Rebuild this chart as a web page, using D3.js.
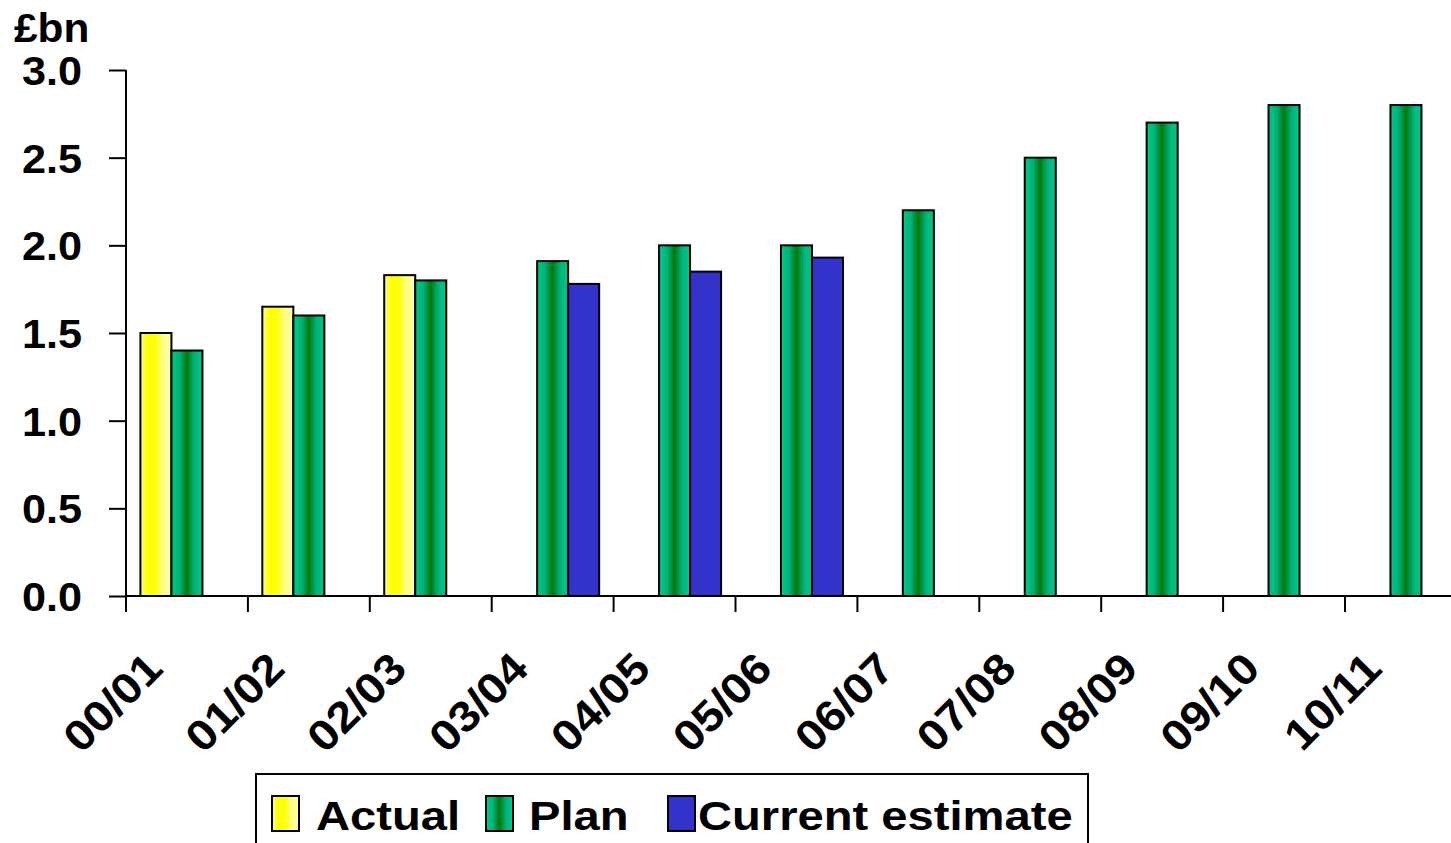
<!DOCTYPE html>
<html>
<head>
<meta charset="utf-8">
<script src="https://cdn.jsdelivr.net/npm/d3@7"></script>
<style>
  html, body { margin: 0; padding: 0; background: #fff; overflow: hidden; }
  svg { display: block; }
  text { font-family: "Liberation Sans", Arial, sans-serif; font-weight: bold; fill: #000; }
</style>
</head>
<body>
<svg id="chart" width="1451" height="843"></svg>
<script>
// Spending by financial year, £bn
const years = ["00/01", "01/02", "02/03", "03/04", "04/05", "05/06", "06/07", "07/08", "08/09", "09/10", "10/11"];
const seriesNames = ["Actual", "Plan", "Current estimate"];
const actual = [1.5, 1.65, 1.83, null, null, null, null, null, null, null, null];
const plan = [1.4, 1.6, 1.8, 1.91, 2.0, 2.0, 2.2, 2.5, 2.7, 2.8, 2.8];
const currentEstimate = [null, null, null, 1.78, 1.85, 1.93, null, null, null, null, null];
const yTicks = [0, 0.5, 1.0, 1.5, 2.0, 2.5, 3.0];

const seriesValues = [actual, plan, currentEstimate];
const fills = ["url(#gradActual)", "url(#gradPlan)", "#3333cc"];

const svg = d3.select("#chart");
const plotLeft = 126, plotTop = 70, plotBottom = 596;
const step = 121.9;

// gradients for the shaded bars
const defs = svg.append("defs");
const gA = defs.append("linearGradient").attr("id", "gradActual").attr("x1", "0").attr("x2", "1").attr("y1", "0").attr("y2", "0");
[[0, "#ffff88"], [0.25, "#ffff00"], [0.5, "#ffff10"], [0.7, "#ffff80"], [1, "#ffffb0"]]
  .forEach(([o, c]) => gA.append("stop").attr("offset", o).attr("stop-color", c));
const gP = defs.append("linearGradient").attr("id", "gradPlan").attr("x1", "0").attr("x2", "1").attr("y1", "0").attr("y2", "0");
[[0, "#00c88c"], [0.25, "#00b47a"], [0.4, "#009040"], [0.5, "#007a00"], [0.6, "#009040"], [0.75, "#00b47a"], [1, "#00c88c"]]
  .forEach(([o, c]) => gP.append("stop").attr("offset", o).attr("stop-color", c));

const x = d3.scaleBand().domain(years).range([plotLeft, plotLeft + step * years.length]).padding(0);
const xs = d3.scaleBand().domain(seriesNames).range([0, x.bandwidth()]).paddingInner(0).paddingOuter(0.465);
const y = d3.scaleLinear().domain([0, 3]).range([plotBottom, plotTop]);

// bars
seriesNames.forEach((name, si) => {
  const data = years.map((yr, i) => ({ yr, v: seriesValues[si][i] })).filter(d => d.v != null);
  svg.append("g").selectAll("rect").data(data).join("rect")
    .attr("x", d => x(d.yr) + xs(name))
    .attr("y", d => y(d.v))
    .attr("width", xs.bandwidth())
    .attr("height", d => y(0) - y(d.v))
    .attr("fill", fills[si])
    .attr("stroke", "#000")
    .attr("stroke-width", 2);
});

// y axis
const yAxis = d3.axisLeft(y).tickValues(yTicks).tickFormat(d3.format(".1f")).tickSize(17).tickPadding(22);
const gy = svg.append("g").attr("transform", `translate(${plotLeft},0)`).call(yAxis);
gy.select(".domain").attr("stroke", "#000").attr("stroke-width", 2).attr("d", `M0,${plotTop}V${plotBottom}`);
gy.selectAll(".tick line").attr("stroke", "#000").attr("stroke-width", 2);
gy.selectAll(".tick text").attr("font-size", 40).attr("dy", "0.36em")
  .attr("transform", "scale(1.08,1)")
  .attr("x", -44 / 1.08);

// x axis
const gx = svg.append("g").attr("transform", `translate(0,${plotBottom})`);
gx.append("line").attr("x1", plotLeft).attr("x2", 1451).attr("y1", 0).attr("y2", 0)
  .attr("stroke", "#000").attr("stroke-width", 2);
gx.selectAll("line.tk").data(years).join("line").attr("class", "tk")
  .attr("x1", d => x(d)).attr("x2", d => x(d)).attr("y1", 0).attr("y2", 16)
  .attr("stroke", "#000").attr("stroke-width", 2);
gx.selectAll("text").data(years).join("text")
  .attr("transform", d => `translate(${x(d) + x.bandwidth() / 2 - 22},${75}) rotate(-45) scale(1.1,1)`)
  .attr("text-anchor", "end")
  .attr("font-size", 43)
  .text(d => d);

// unit label
svg.append("text").attr("transform", "translate(14,42) scale(1.06,1)").attr("font-size", 40).text("£bn");

// legend
const lg = svg.append("g");
lg.append("rect").attr("x", 256).attr("y", 774).attr("width", 832).attr("height", 100)
  .attr("fill", "#fff").attr("stroke", "#000").attr("stroke-width", 2);
const legendItems = [
  { name: "Actual", sx: 272, tx: 316 },
  { name: "Plan", sx: 486, tx: 529 },
  { name: "Current estimate", sx: 668, tx: 698 }
];
legendItems.forEach((it, i) => {
  lg.append("rect").attr("x", it.sx).attr("y", 796).attr("width", 27).attr("height", 35)
    .attr("fill", fills[i]).attr("stroke", "#000").attr("stroke-width", 2);
  lg.append("text").attr("transform", `translate(${it.tx},830) scale(1.15,1)`)
    .attr("font-size", 41).text(it.name);
});
</script>
</body>
</html>
